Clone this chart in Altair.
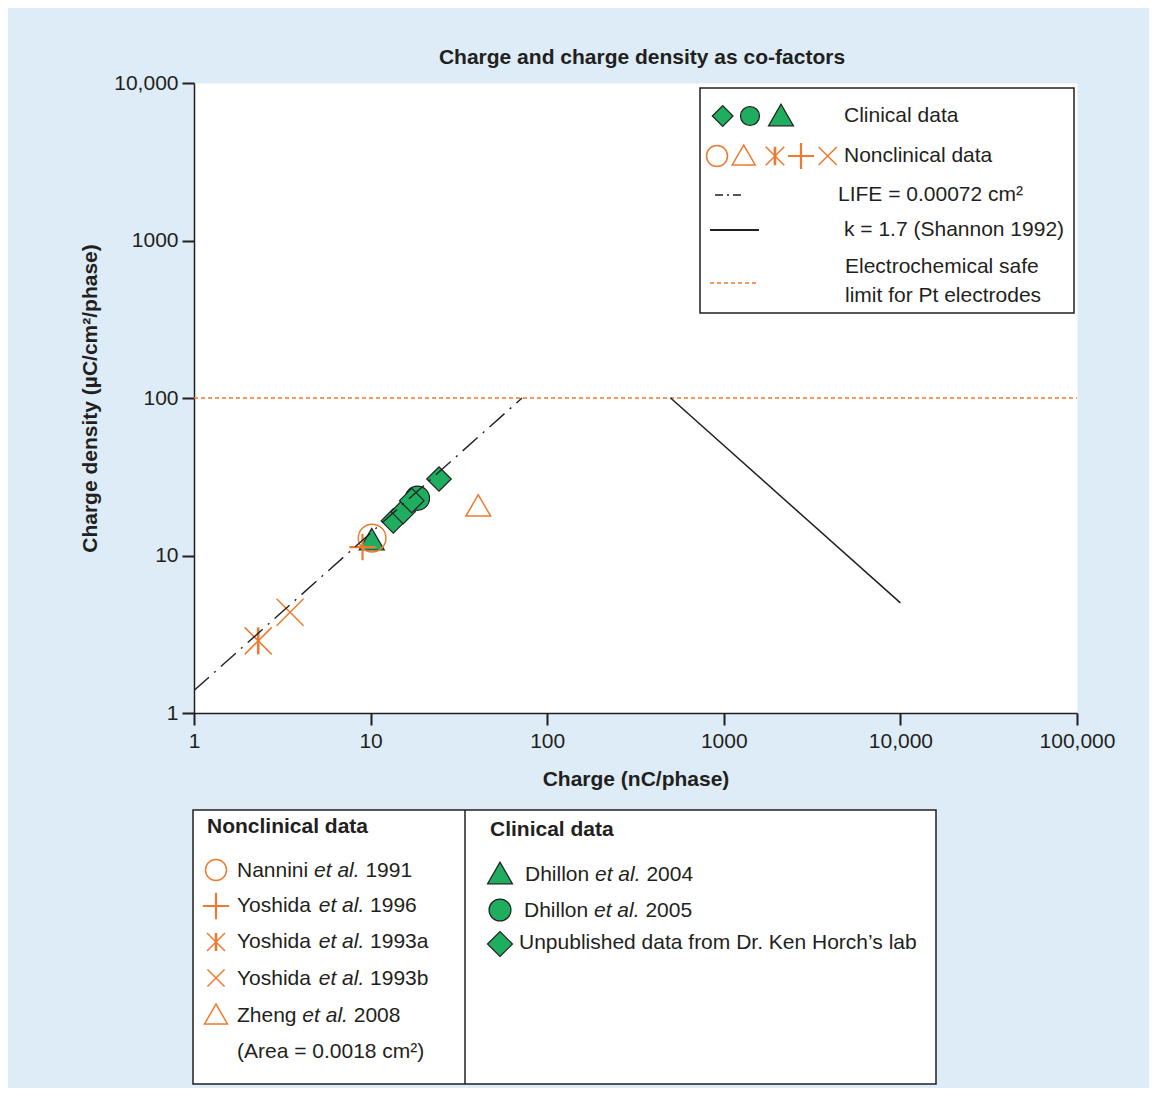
import altair as alt
import pandas as pd

# ---------------- data ----------------
# LIFE electrode line, area = 0.00072 cm2
life_charge = [1, 72]
life_density = [1.39, 100]
# Shannon limit, k = 1.7
shannon_charge = [500, 10000]
shannon_density = [100, 5]
# Electrochemical safe limit for Pt electrodes
safe_charge = [1, 100000]
safe_density = [100, 100]

# Nonclinical data
nannini_charge = [10.2]
nannini_density = [12.9]
yoshida1996_charge = [9.0]
yoshida1996_density = [11.3]
yoshida1993a_charge = [2.31]
yoshida1993a_density = [2.87]
yoshida1993b_charge = [3.5]
yoshida1993b_density = [4.36]
zheng_charge = [40.7]
zheng_density = [20.8]

# Clinical data
dhillon2004_charge = [10.15]
dhillon2004_density = [12.7]
dhillon2005_charge = [18.4]
dhillon2005_density = [23.1]
horch_charge = [13.45, 15.3, 17.1, 24.4]
horch_density = [16.6, 19.0, 22.3, 30.6]

x_ticks = [1, 10, 100, 1000, 10000, 100000]
x_tick_labels = ["1", "10", "100", "1000", "10,000", "100,000"]
y_ticks = [1, 10, 100, 1000, 10000]
y_tick_labels = ["1", "10", "100", "1000", "10,000"]

# ---------------- styling ----------------
FONT = "Liberation Sans"
INK = "#231f20"
ORANGE = "#ee7a2f"
GREEN = "#1fae5f"
BG = "#ddecf7"
OX, OY = 194, 83          # page position of the plot origin
W_PLOT, H_PLOT = 883, 630

ONE = pd.DataFrame({"k": [0]})

# Arial / Liberation Sans advance widths (per 1000 em)
AW = {' ': 278, 'N': 722, 'a': 556, 'n': 556, 'i': 222, 'e': 556, 't': 278,
      'l': 222, '.': 278, 'Y': 667, 'o': 556, 's': 500, 'h': 556, 'd': 556,
      'Z': 611, 'g': 556, 'D': 722}


def tw(s, size=21):
    return sum(AW.get(c, 556) for c in s) * size / 1000.0


def label_expr(vals, labels):
    expr = "''"
    for v, l in reversed(list(zip(vals, labels))):
        expr = f"datum.value == {v} ? '{l}' : ({expr})"
    return expr


xscale = alt.Scale(type="log", domain=[1, 100000], nice=False)
yscale = alt.Scale(type="log", domain=[1, 10000], nice=False)

X = alt.X("q:Q", scale=xscale,
          axis=alt.Axis(values=x_ticks, labelExpr=label_expr(x_ticks, x_tick_labels),
                        title="Charge (nC/phase)", grid=False, tickSize=12,
                        labelPadding=5, titlePadding=17, labelFlush=False,
                        labelOverlap=False))
Y = alt.Y("d:Q", scale=yscale,
          axis=alt.Axis(values=y_ticks, labelExpr=label_expr(y_ticks, y_tick_labels),
                        title="Charge density (\u00b5C/cm\u00b2/phase)", grid=False,
                        tickSize=12, labelPadding=4, titlePadding=13,
                        labelFlush=False, labelOverlap=False))


def df(q, d):
    return pd.DataFrame({"q": q, "d": d})


def line(q, d, color, sw, dash=None):
    kw = dict(color=color, strokeWidth=sw, clip=True)
    if dash:
        kw["strokeDash"] = dash
    return alt.Chart(df(q, d)).mark_line(**kw).encode(x=X, y=Y)


def pts(q, d, shape, size, stroke, sw, fill=None):
    kw = dict(shape=shape, size=size, opacity=1, stroke=stroke, strokeWidth=sw)
    if fill:
        kw.update(filled=True, fill=fill)
    else:
        kw.update(filled=False)
    return alt.Chart(df(q, d)).mark_point(**kw).encode(x=X, y=Y)


def sym(x, y, shape, size, stroke, sw, fill=None):
    kw = dict(shape=shape, size=size, opacity=1, stroke=stroke, strokeWidth=sw)
    if fill:
        kw.update(filled=True, fill=fill)
    else:
        kw.update(filled=False)
    return alt.Chart(ONE).mark_point(**kw).encode(x=alt.value(x - OX), y=alt.value(y - OY))


def txt(x, y, s, size=21, weight="normal", style="normal", align="left", baseline="middle"):
    return alt.Chart(ONE).mark_text(text=s, align=align, baseline=baseline, font=FONT,
                                    fontSize=size, fontWeight=weight, fontStyle=style,
                                    color=INK).encode(x=alt.value(x - OX), y=alt.value(y - OY))


def hrule(x1, x2, y, color, sw, dash=None):
    kw = dict(color=color, strokeWidth=sw)
    if dash:
        kw["strokeDash"] = dash
    return alt.Chart(ONE).mark_rule(**kw).encode(
        x=alt.value(x1 - OX), x2=alt.value(x2 - OX), y=alt.value(y - OY))


def vrule(x, y1, y2, color, sw):
    return alt.Chart(ONE).mark_rule(color=color, strokeWidth=sw).encode(
        x=alt.value(x - OX), y=alt.value(y1 - OY), y2=alt.value(y2 - OY))


def box(x1, y1, x2, y2):
    return alt.Chart(ONE).mark_rect(fill="white", stroke=INK, strokeWidth=1.5).encode(
        x=alt.value(x1 - OX), x2=alt.value(x2 - OX), y=alt.value(y1 - OY), y2=alt.value(y2 - OY))


PLUS = "M-1,0L1,0M0,-1L0,1"
XSHAPE = "M-1,-1L1,1M-1,1L1,-1"
VBAR = "M0,-1L0,1"


def asterisk_pts(q, d, size):
    return [pts(q, d, XSHAPE, size, ORANGE, 1.5), pts(q, d, VBAR, size, ORANGE, 2.6)]


def asterisk_sym(x, y, size):
    return [sym(x, y, XSHAPE, size, ORANGE, 1.5), sym(x, y, VBAR, size, ORANGE, 2.6)]


layers = []
# reference lines
layers.append(line(safe_charge, safe_density, ORANGE, 1.3, [4, 3]))
layers.append(line(shannon_charge, shannon_density, INK, 1.5))
# clinical data
layers.append(pts(dhillon2004_charge, dhillon2004_density, "triangle-up", 625, INK, 1.2, GREEN))
layers.append(pts(dhillon2005_charge, dhillon2005_density, "circle", 590, INK, 1.2, GREEN))
layers.append(pts(horch_charge, horch_density, "diamond", 600, INK, 1.2, GREEN))
# nonclinical data
layers.append(pts(nannini_charge, nannini_density, "circle", 767, ORANGE, 1.5))
layers.append(pts(yoshida1996_charge, yoshida1996_density, PLUS, 690, ORANGE, 2.2))
layers += asterisk_pts(yoshida1993a_charge, yoshida1993a_density, 729)
layers.append(pts(yoshida1993b_charge, yoshida1993b_density, XSHAPE, 729, ORANGE, 1.5))
layers.append(pts(zheng_charge, zheng_density, "triangle-up", 610, ORANGE, 1.5))
# LIFE line drawn over the points
layers.append(line(life_charge, life_density, INK, 1.4, [20, 7, 2, 7]))

# title
layers.append(txt(642, 64, "Charge and charge density as co-factors", weight="bold",
                  align="center", baseline="alphabetic"))

# ---------- legend inside plot ----------
layers.append(box(700, 88, 1074, 313))
layers.append(sym(722.7, 116, "diamond", 430, INK, 1.2, GREEN))
layers.append(sym(750, 116, "circle", 361, INK, 1.2, GREEN))
layers.append(sym(781, 115, "triangle-up", 625, INK, 1.2, GREEN))
layers.append(txt(844, 116, "Clinical data"))
layers.append(sym(717, 156, "circle", 441, ORANGE, 1.5))
layers.append(sym(743.7, 155, "triangle-up", 530, ORANGE, 1.5))
layers += asterisk_sym(775, 156, 340)
layers.append(sym(801, 156, PLUS, 680, ORANGE, 2.2))
layers.append(sym(827.7, 156, XSHAPE, 330, ORANGE, 1.5))
layers.append(txt(844, 156, "Nonclinical data"))
layers.append(hrule(715, 743, 195, INK, 1.4, [8, 4, 2, 4]))
layers.append(txt(838, 195, "LIFE = 0.00072 cm\u00b2"))
layers.append(hrule(710, 759, 230, INK, 2))
layers.append(txt(844, 230, "k = 1.7 (Shannon 1992)"))
layers.append(hrule(710, 758, 283, ORANGE, 1.3, [4, 3]))
layers.append(txt(845, 267, "Electrochemical safe"))
layers.append(txt(845, 296, "limit for Pt electrodes"))

# ---------- legend below the chart ----------
layers.append(box(193, 810, 936, 1084))
layers.append(vrule(465, 810, 1084, INK, 1.5))
layers.append(txt(207, 827, "Nonclinical data", weight="bold"))
layers.append(txt(490, 830, "Clinical data", weight="bold"))


def cite(x, y, author, year):
    return [txt(x, y, author),
            txt(x + tw(author + " "), y, "et al.", style="italic"),
            txt(x + tw(author + " et al. "), y, year)]


layers.append(sym(216, 870, "circle", 441, ORANGE, 1.5))
layers += cite(237, 871, "Nannini", "1991")
layers.append(sym(216, 906, PLUS, 690, ORANGE, 2.2))
layers += cite(237, 906, "Yoshida", "1996")
layers += asterisk_sym(216, 942, 324)
layers += cite(237, 942, "Yoshida", "1993a")
layers.append(sym(216, 978, XSHAPE, 289, ORANGE, 1.5))
layers += cite(237, 979, "Yoshida", "1993b")
layers.append(sym(216, 1014, "triangle-up", 529, ORANGE, 1.5))
layers += cite(237, 1016, "Zheng", "2008")
layers.append(txt(237, 1052, "(Area = 0.0018 cm\u00b2)"))

layers.append(sym(500, 873, "triangle-up", 625, INK, 1.2, GREEN))
layers += cite(525, 875, "Dhillon", "2004")
layers.append(sym(500, 910, "circle", 480, INK, 1.2, GREEN))
layers += cite(524, 911, "Dhillon", "2005")
layers.append(sym(500, 944, "diamond", 625, INK, 1.2, GREEN))
layers.append(txt(519, 943, "Unpublished data from Dr. Ken Horch\u2019s lab"))

chart = alt.layer(*layers).properties(
    width=W_PLOT, height=H_PLOT,
    autosize=alt.AutoSizeParams(type="none"),
    padding={"left": OX - 8, "top": OY - 8, "right": 72, "bottom": 375},
    background=BG,
).configure_view(
    fill="white", stroke="transparent"
).configure_axis(
    labelFont=FONT, labelFontSize=21, labelColor=INK,
    titleFont=FONT, titleFontSize=21, titleFontWeight="bold", titleColor=INK,
    domainColor=INK, domainWidth=1.5, tickColor=INK, tickWidth=2,
)

chart.save("out.html", embed_options={"renderer": "svg", "actions": False})
